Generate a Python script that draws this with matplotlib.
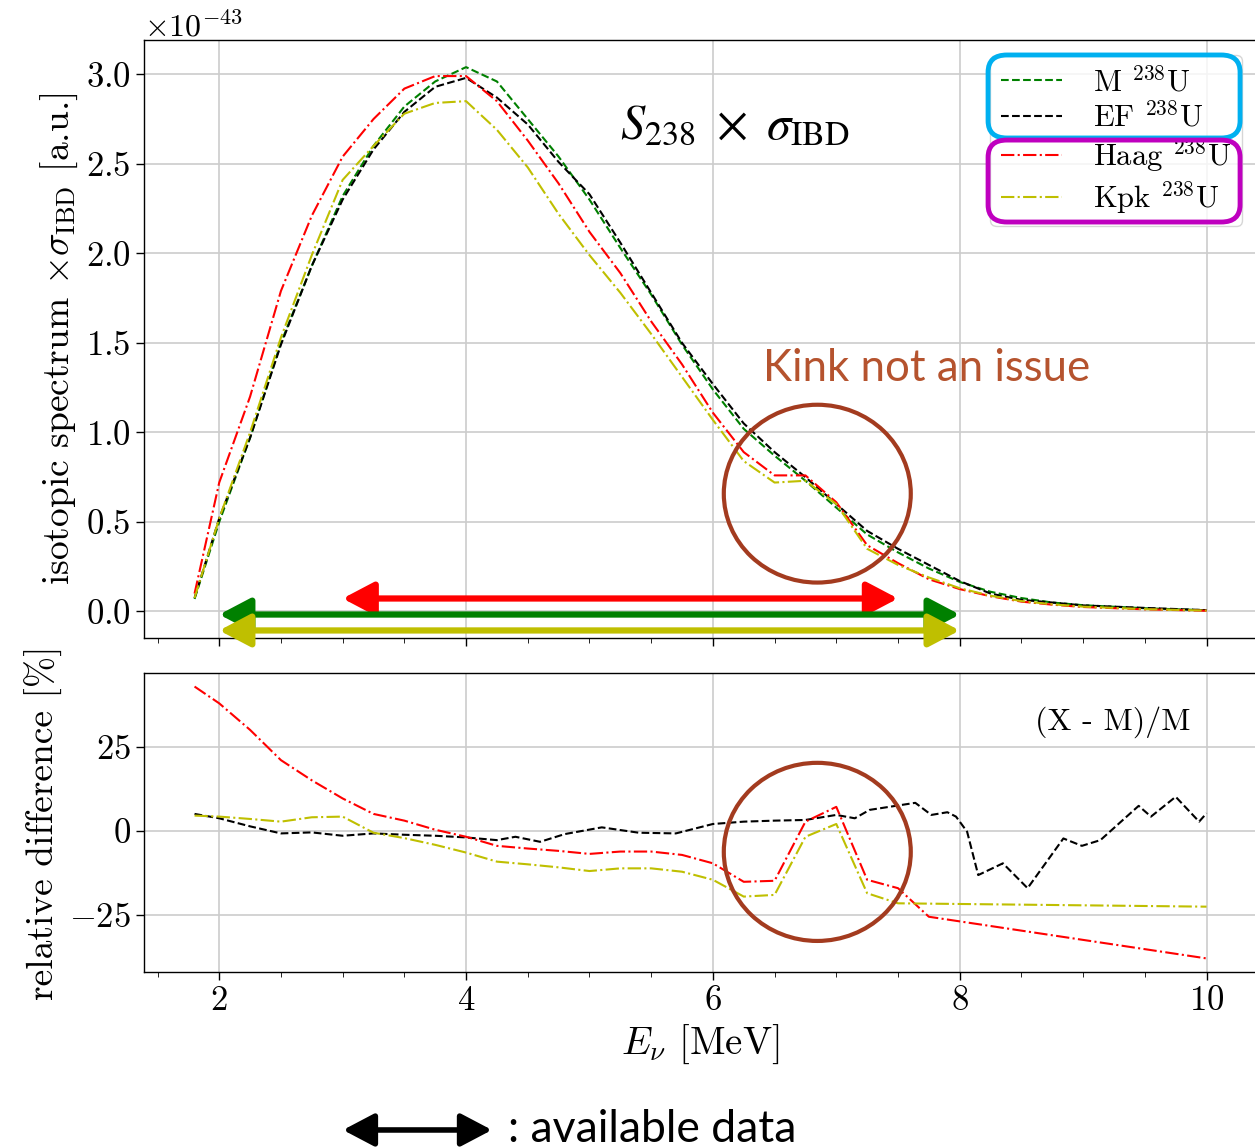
import numpy as np
import matplotlib
matplotlib.use("Agg")
import matplotlib.pyplot as plt
from matplotlib.patches import Ellipse, FancyArrowPatch, FancyBboxPatch
from matplotlib.ticker import MultipleLocator

plt.rcParams.update({
    "font.family": "serif",
    "font.serif": ["cmr10"],
    "mathtext.fontset": "cm",
    "axes.formatter.use_mathtext": True,
    "font.size": 25,
    "axes.labelsize": 27,
    "axes.linewidth": 1.0,
    "xtick.major.size": 6,
    "ytick.major.size": 6,
    "xtick.minor.size": 3.5,
    "xtick.major.width": 1.0,
    "ytick.major.width": 1.0,
})

SCALE = 1e-43

# antineutrino energy grid of the isotopic spectra [MeV]
E_spec = [1.8, 2.0, 2.25, 2.5, 2.75, 3.0, 3.25, 3.5, 3.75, 4.0, 4.25, 4.5, 4.75,
          5.0, 5.25, 5.5, 5.75, 6.0, 6.25, 6.5, 6.75, 7.0, 7.25, 7.5, 7.75,
          8.0, 8.25, 8.5, 8.75, 9.0, 9.5, 10.0]

# S_238 x sigma_IBD in units of 1e-43
spec_M = [0.07, 0.50, 0.97, 1.50, 1.93, 2.32, 2.60, 2.82, 2.96, 3.04, 2.96, 2.75, 2.54,
          2.30, 2.03, 1.77, 1.49, 1.24, 1.02, 0.87, 0.73, 0.58, 0.43, 0.33, 0.24,
          0.165, 0.11, 0.075, 0.05, 0.035, 0.018, 0.007]
spec_EF = [0.075, 0.52, 0.97, 1.49, 1.93, 2.30, 2.58, 2.79, 2.93, 2.98, 2.87, 2.72, 2.51,
           2.33, 2.06, 1.78, 1.50, 1.27, 1.05, 0.89, 0.75, 0.60, 0.45, 0.35, 0.26,
           0.17, 0.10, 0.065, 0.05, 0.034, 0.02, 0.0075]
spec_Haag = [0.10, 0.72, 1.20, 1.79, 2.21, 2.54, 2.75, 2.92, 2.99, 2.99, 2.85, 2.63, 2.39,
             2.12, 1.89, 1.62, 1.38, 1.11, 0.89, 0.76, 0.76, 0.61, 0.37, 0.27, 0.18,
             0.125, 0.085, 0.055, 0.038, 0.025, 0.012, 0.004]
spec_Kpk = [0.075, 0.52, 1.00, 1.53, 1.99, 2.41, 2.60, 2.78, 2.84, 2.85, 2.69, 2.48, 2.22,
            1.99, 1.78, 1.55, 1.31, 1.07, 0.84, 0.72, 0.73, 0.60, 0.35, 0.26, 0.19,
            0.13, 0.088, 0.058, 0.04, 0.027, 0.013, 0.005]

# relative difference (X - M)/M [%]
E_haag_rel = [1.8, 2.0, 2.25, 2.5, 2.75, 3.0, 3.25, 3.5, 3.75, 4.0, 4.25, 4.5, 4.75,
              5.0, 5.25, 5.5, 5.75, 6.0, 6.25, 6.5, 6.75, 7.0, 7.25, 7.5, 7.75, 10.0]
rel_Haag = [42.9, 37.9, 30.0, 21.0, 15.0, 9.6, 5.0, 3.0, 0.3, -1.8, -4.5, -5.3, -6.0,
            -6.9, -6.2, -6.2, -7.2, -9.7, -15.2, -14.9, 2.7, 7.1, -14.6, -17.1, -25.6, -38.0]

E_kpk_rel = [1.8, 2.0, 2.25, 2.5, 2.75, 3.0, 3.25, 3.5, 3.75, 4.0, 4.25, 4.5, 4.75,
             5.0, 5.25, 5.5, 5.75, 6.0, 6.25, 6.5, 6.75, 7.0, 7.25, 7.5, 10.0]
rel_Kpk = [4.5, 4.2, 3.5, 2.7, 4.0, 4.2, -0.6, -2.2, -4.2, -6.5, -9.2, -10.0, -10.9,
           -12.0, -11.2, -11.2, -12.2, -14.6, -19.6, -19.1, -1.8, 2.0, -18.6, -21.6, -22.6]

E_ef_rel = [1.8, 2.0, 2.25, 2.5, 2.75, 3.0, 3.25, 3.5, 3.75, 4.0, 4.25, 4.4, 4.6, 4.8,
            5.1, 5.4, 5.7, 6.0, 6.25, 6.5, 6.75, 7.0, 7.15, 7.27, 7.64, 7.77, 7.9, 7.97,
            8.06, 8.15, 8.35, 8.55, 8.84, 8.99, 9.14, 9.45, 9.55, 9.75, 9.94, 10.0]
rel_EF = [5.0, 3.7, 1.3, -0.8, -0.5, -1.5, -0.8, -1.2, -1.5, -2.0, -2.8, -1.8, -3.3, -1.0,
          1.0, -0.6, -0.8, 2.0, 2.7, 3.0, 3.2, 4.7, 3.7, 6.2, 8.3, 4.7, 5.5, 4.2,
          -0.3, -13.2, -9.7, -17.1, -2.3, -4.5, -2.8, 7.4, 4.2, 10.1, 2.7, 5.2]

# energy ranges covered by the measured data [MeV]
range_Haag = (3.0, 7.5)
range_M = (2.0, 8.0)
range_Kpk = (2.0, 8.0)

fig = plt.figure(figsize=(12.55, 11.48), dpi=100)
ax1 = fig.add_axes([0.1147, 0.4443, 0.8870, 0.5209])
ax2 = fig.add_axes([0.1147, 0.1533, 0.8870, 0.2605], sharex=ax1)

styles = [
    ("M $^{238}$U", "g", "--"),
    ("EF $^{238}$U", "k", "--"),
    ("Haag $^{238}$U", "r", "-."),
    ("Kpk $^{238}$U", "y", "-."),
]
for (label, c, ls), s in zip(styles, [spec_M, spec_EF, spec_Haag, spec_Kpk]):
    ax1.plot(E_spec, np.array(s) * SCALE, color=c, ls=ls, lw=1.5, label=label)

ax1.set_ylabel(r"isotopic spectrum $\times \sigma_{\mathrm{IBD}}$ [a.u.]")
ax1.set_yticks(np.arange(0, 3.01, 0.5) * SCALE)
ax1.yaxis.get_offset_text().set_fontsize(23)
ax1.xaxis.set_minor_locator(MultipleLocator(0.5))
ax1.tick_params(labelbottom=False)
ax1.grid(True, color="0.8", lw=1.2)
ax1.legend(loc="upper right", fontsize=22, handletextpad=1.0, labelspacing=0.15,
           borderpad=0.35)

ax2.plot(E_ef_rel, rel_EF, color="k", ls="--", lw=1.5)
ax2.plot(E_haag_rel, rel_Haag, color="r", ls="-.", lw=1.5)
ax2.plot(E_kpk_rel, rel_Kpk, color="y", ls="-.", lw=1.5)
ax2.yaxis.set_major_locator(MultipleLocator(25))
ax2.xaxis.set_major_locator(MultipleLocator(2))
ax2.xaxis.set_minor_locator(MultipleLocator(0.5))
ax2.grid(True, color="0.8", lw=1.2)
ax2.set_ylabel("relative difference [%]")
ax2.set_xlabel(r"$E_\nu$ [MeV]", fontsize=28)
ax2.text(0.94, 0.836, "(X - M)/M", transform=ax2.transAxes, ha="right",
         va="center", fontsize=23)

# data-range arrows
for (lo, hi), y, c in [(range_Haag, 0.0725, "#FF0000"),
                       (range_M, -0.017, "#008000"),
                       (range_Kpk, -0.106, "#BFBF00")]:
    arr = FancyArrowPatch((lo, y * SCALE), (hi, y * SCALE),
                          arrowstyle="<|-|>,head_length=19,head_width=10",
                          mutation_scale=1, lw=4.5, color=c,
                          shrinkA=0, shrinkB=0, clip_on=False, zorder=5)
    ax1.add_patch(arr)

# circles around the kink
brown = "#A33B1F"
ax1.add_patch(Ellipse((6.846, 0.658 * SCALE), 1.515, 0.993 * SCALE, fill=False,
                      ec=brown, lw=3, clip_on=False, zorder=6))
ax2.add_patch(Ellipse((6.846, -6.3), 1.515, 53, fill=False,
                      ec=brown, lw=3, clip_on=False, zorder=6))

ax1.text(0.428, 0.855, r"$S_{238}\ \times\ \sigma_{\mathrm{IBD}}$", transform=ax1.transAxes,
         fontsize=35, math_fontfamily="stix", va="center", ha="left")
fig.text(0.608, 0.6794, "Kink not an issue", color="#B5532E", fontsize=31.5,
         family="Lato", va="center", ha="left")

# boxes grouping the legend entries
fig.add_artist(FancyBboxPatch((0.7873, 0.8798), 0.2008, 0.0723,
                              boxstyle="round,pad=0,rounding_size=0.015",
                              transform=fig.transFigure, fill=False,
                              ec="#00B0F0", lw=3.5, zorder=10))
fig.add_artist(FancyBboxPatch((0.7873, 0.8066), 0.2008, 0.0714,
                              boxstyle="round,pad=0,rounding_size=0.015",
                              transform=fig.transFigure, fill=False,
                              ec="#BF00BF", lw=3.5, zorder=10))

# key for the arrows
fig.add_artist(FancyArrowPatch((0.2733, 0.0157), (0.392, 0.0157),
                               transform=fig.transFigure,
                               arrowstyle="<|-|>,head_length=19,head_width=10",
                               mutation_scale=1, lw=4, color="k",
                               shrinkA=0, shrinkB=0))
fig.text(0.405, 0.0157, ": available data", fontsize=32, family="Lato",
         va="center", ha="left")

fig.savefig("out.png", dpi=100)
